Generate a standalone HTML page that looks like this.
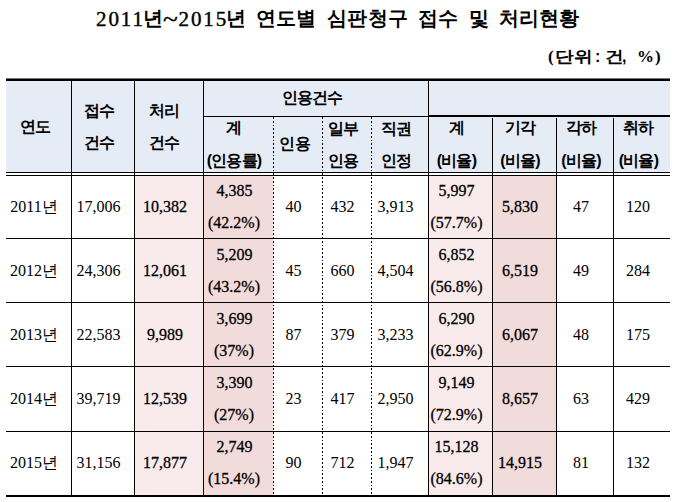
<!DOCTYPE html>
<html><head><meta charset="utf-8"><style>
html,body{margin:0;padding:0;background:#fff;width:678px;height:502px;overflow:hidden}
body{position:relative}
div{position:absolute}
.t{width:300px;height:30px;line-height:30px;text-align:center;white-space:nowrap;color:#000}
.h{font-family:"Liberation Sans",sans-serif;font-size:16px;font-weight:bold;letter-spacing:-0.8px}
.d{font-family:"Liberation Serif",serif;font-size:16px;font-weight:300}
.b{font-weight:normal;-webkit-text-stroke:0.3px #000}
.tk{font-family:"Liberation Serif",serif;font-size:19.5px;font-weight:bold;line-height:30px;white-space:nowrap}
.tn{font-weight:normal;-webkit-text-stroke:0.4px #000;letter-spacing:1.9px;font-size:21px}
.tl{display:inline-block;transform:scaleX(1.3);transform-origin:left}
.uk{font-family:"Liberation Sans",sans-serif;font-size:16px;font-weight:bold;line-height:30px;white-space:nowrap}
.us{font-family:"Liberation Serif",serif;font-size:17px}
.sx{display:inline-block;transform:scaleX(1.17);transform-origin:left}
</style></head><body>
<div style="left:6px;top:81px;width:664px;height:91px;background:#e5ecf6;"></div><div style="left:135px;top:176px;width:68px;height:62px;background:#f9ebeb;"></div><div style="left:204px;top:176px;width:69px;height:62px;background:#f2dbdb;"></div><div style="left:429px;top:176px;width:63px;height:62px;background:#f9ebeb;"></div><div style="left:493px;top:176px;width:63px;height:62px;background:#f2dbdb;"></div><div style="left:135px;top:239px;width:68px;height:63px;background:#f9ebeb;"></div><div style="left:204px;top:239px;width:69px;height:63px;background:#f2dbdb;"></div><div style="left:429px;top:239px;width:63px;height:63px;background:#f9ebeb;"></div><div style="left:493px;top:239px;width:63px;height:63px;background:#f2dbdb;"></div><div style="left:135px;top:303px;width:68px;height:63px;background:#f9ebeb;"></div><div style="left:204px;top:303px;width:69px;height:63px;background:#f2dbdb;"></div><div style="left:429px;top:303px;width:63px;height:63px;background:#f9ebeb;"></div><div style="left:493px;top:303px;width:63px;height:63px;background:#f2dbdb;"></div><div style="left:135px;top:367px;width:68px;height:64px;background:#f9ebeb;"></div><div style="left:204px;top:367px;width:69px;height:64px;background:#f2dbdb;"></div><div style="left:429px;top:367px;width:63px;height:64px;background:#f9ebeb;"></div><div style="left:493px;top:367px;width:63px;height:64px;background:#f2dbdb;"></div><div style="left:135px;top:432px;width:68px;height:63px;background:#f9ebeb;"></div><div style="left:204px;top:432px;width:69px;height:63px;background:#f2dbdb;"></div><div style="left:429px;top:432px;width:63px;height:63px;background:#f9ebeb;"></div><div style="left:493px;top:432px;width:63px;height:63px;background:#f2dbdb;"></div><div style="left:6px;top:78px;width:664px;height:1px;background:#777;"></div><div style="left:6px;top:79px;width:664px;height:2px;background:#000;"></div><div style="left:203px;top:116px;width:225px;height:1px;background:#000;"></div><div style="left:428px;top:115px;width:242px;height:2px;background:#000;"></div><div style="left:6px;top:172px;width:664px;height:1px;background:#000;"></div><div style="left:6px;top:175px;width:664px;height:1px;background:#000;"></div><div style="left:6px;top:238px;width:664px;height:1px;background:#000;"></div><div style="left:6px;top:302px;width:664px;height:1px;background:#000;"></div><div style="left:6px;top:366px;width:664px;height:1px;background:#000;"></div><div style="left:6px;top:431px;width:664px;height:1px;background:#000;"></div><div style="left:6px;top:495px;width:664px;height:2px;background:#000;"></div><div style="left:71px;top:81px;width:1px;height:414px;background:#000;"></div><div style="left:134px;top:81px;width:1px;height:414px;background:#000;"></div><div style="left:203px;top:81px;width:1px;height:414px;background:#000;"></div><div style="left:428px;top:81px;width:1px;height:414px;background:#000;"></div><div style="left:492px;top:118px;width:1px;height:377px;background:#000;"></div><div style="left:556px;top:118px;width:1px;height:377px;background:#000;"></div><div style="left:613px;top:118px;width:1px;height:377px;background:#000;"></div><svg style="position:absolute;left:273px;top:117px" width="1" height="378"><line x1="0.5" y1="0" x2="0.5" y2="378" stroke="#000" stroke-width="1" stroke-dasharray="1.85 1.9" shape-rendering="crispEdges"/></svg><svg style="position:absolute;left:322px;top:117px" width="1" height="378"><line x1="0.5" y1="0" x2="0.5" y2="378" stroke="#000" stroke-width="1" stroke-dasharray="1.85 1.9" shape-rendering="crispEdges"/></svg><svg style="position:absolute;left:371px;top:117px" width="1" height="378"><line x1="0.5" y1="0" x2="0.5" y2="378" stroke="#000" stroke-width="1" stroke-dasharray="1.85 1.9" shape-rendering="crispEdges"/></svg>
<div class="tk" style="left:96px;top:4px"><span class="tn">2011</span></div><div class="tk" style="left:142.5px;top:4px">년</div><div class="tk" style="left:163px;top:4px"><span class="tn tl">~</span></div><div class="tk" style="left:178.5px;top:4px"><span class="tn">2015</span></div><div class="tk" style="left:225.5px;top:4px">년</div><div class="tk" style="left:256px;top:4px">연도별</div><div class="tk" style="left:326.5px;top:4px"><span style="letter-spacing:0.5px">심판청구</span></div><div class="tk" style="left:417.5px;top:4px">접수</div><div class="tk" style="left:468.5px;top:4px">및</div><div class="tk" style="left:498.5px;top:4px">처리현황</div>
<div class="uk" style="left:548px;top:42px"><span class="us">(</span></div><div class="uk" style="left:555px;top:42px"><span class="sx">단위</span></div><div class="uk" style="left:595px;top:42px">:</div><div class="uk" style="left:605px;top:42px"><span class="sx">건</span></div><div class="uk" style="left:622px;top:42px">,</div><div class="uk" style="left:637px;top:42px"><span class="us">%</span></div><div class="uk" style="left:655px;top:42px"><span class="us">)</span></div>
<div class="t h" style="left:-114.5px;top:111.5px">연도</div><div class="t h" style="left:-50.5px;top:95.7px">접수</div><div class="t h" style="left:-50.5px;top:127.80000000000001px">건수</div><div class="t h" style="left:14.5px;top:95.7px">처리</div><div class="t h" style="left:14.5px;top:127.80000000000001px">건수</div><div class="t h" style="left:162px;top:83px">인용건수</div><div class="t h" style="left:84px;top:113px">계</div><div class="t h" style="left:84px;top:145.5px">(인용률)</div><div class="t h" style="left:144.60000000000002px;top:129px">인용</div><div class="t h" style="left:193px;top:114.19999999999999px">일부</div><div class="t h" style="left:193px;top:145.6px">인용</div><div class="t h" style="left:245.8px;top:114.19999999999999px">직권</div><div class="t h" style="left:245.8px;top:145.6px">인정</div><div class="t h" style="left:306.5px;top:113px">계</div><div class="t h" style="left:306.5px;top:145.5px">(비율)</div><div class="t h" style="left:370px;top:113px">기각</div><div class="t h" style="left:370px;top:145.5px">(비율)</div><div class="t h" style="left:431px;top:113px">각하</div><div class="t h" style="left:431px;top:145.5px">(비율)</div><div class="t h" style="left:488.5px;top:113px">취하</div><div class="t h" style="left:488.5px;top:145.5px">(비율)</div><div class="t d" style="left:-116px;top:192px">2011년</div><div class="t d" style="left:-51.5px;top:192px">17,006</div><div class="t d b" style="left:15px;top:192px">10,382</div><div class="t d b" style="left:84.5px;top:176px">4,385</div><div class="t d b" style="left:84px;top:207.5px">(42.2%)</div><div class="t d" style="left:143.5px;top:192px">40</div><div class="t d" style="left:192.5px;top:192px">432</div><div class="t d" style="left:245.5px;top:192px">3,913</div><div class="t d b" style="left:306.5px;top:176px">5,997</div><div class="t d b" style="left:306.5px;top:207.5px">(57.7%)</div><div class="t d b" style="left:370px;top:192px">5,830</div><div class="t d" style="left:431px;top:192px">47</div><div class="t d" style="left:488px;top:192px">120</div><div class="t d" style="left:-116px;top:256px">2012년</div><div class="t d" style="left:-51.5px;top:256px">24,306</div><div class="t d b" style="left:15px;top:256px">12,061</div><div class="t d b" style="left:84.5px;top:240px">5,209</div><div class="t d b" style="left:84px;top:271.5px">(43.2%)</div><div class="t d" style="left:143.5px;top:256px">45</div><div class="t d" style="left:192.5px;top:256px">660</div><div class="t d" style="left:245.5px;top:256px">4,504</div><div class="t d b" style="left:306.5px;top:240px">6,852</div><div class="t d b" style="left:306.5px;top:271.5px">(56.8%)</div><div class="t d b" style="left:370px;top:256px">6,519</div><div class="t d" style="left:431px;top:256px">49</div><div class="t d" style="left:488px;top:256px">284</div><div class="t d" style="left:-116px;top:320px">2013년</div><div class="t d" style="left:-51.5px;top:320px">22,583</div><div class="t d b" style="left:15px;top:320px">9,989</div><div class="t d b" style="left:84.5px;top:304px">3,699</div><div class="t d b" style="left:84px;top:335.5px">(37%)</div><div class="t d" style="left:143.5px;top:320px">87</div><div class="t d" style="left:192.5px;top:320px">379</div><div class="t d" style="left:245.5px;top:320px">3,233</div><div class="t d b" style="left:306.5px;top:304px">6,290</div><div class="t d b" style="left:306.5px;top:335.5px">(62.9%)</div><div class="t d b" style="left:370px;top:320px">6,067</div><div class="t d" style="left:431px;top:320px">48</div><div class="t d" style="left:488px;top:320px">175</div><div class="t d" style="left:-116px;top:384px">2014년</div><div class="t d" style="left:-51.5px;top:384px">39,719</div><div class="t d b" style="left:15px;top:384px">12,539</div><div class="t d b" style="left:84.5px;top:368px">3,390</div><div class="t d b" style="left:84px;top:399.5px">(27%)</div><div class="t d" style="left:143.5px;top:384px">23</div><div class="t d" style="left:192.5px;top:384px">417</div><div class="t d" style="left:245.5px;top:384px">2,950</div><div class="t d b" style="left:306.5px;top:368px">9,149</div><div class="t d b" style="left:306.5px;top:399.5px">(72.9%)</div><div class="t d b" style="left:370px;top:384px">8,657</div><div class="t d" style="left:431px;top:384px">63</div><div class="t d" style="left:488px;top:384px">429</div><div class="t d" style="left:-116px;top:448px">2015년</div><div class="t d" style="left:-51.5px;top:448px">31,156</div><div class="t d b" style="left:15px;top:448px">17,877</div><div class="t d b" style="left:84.5px;top:432px">2,749</div><div class="t d b" style="left:84px;top:463.5px">(15.4%)</div><div class="t d" style="left:143.5px;top:448px">90</div><div class="t d" style="left:192.5px;top:448px">712</div><div class="t d" style="left:245.5px;top:448px">1,947</div><div class="t d b" style="left:306.5px;top:432px">15,128</div><div class="t d b" style="left:306.5px;top:463.5px">(84.6%)</div><div class="t d b" style="left:370px;top:448px">14,915</div><div class="t d" style="left:431px;top:448px">81</div><div class="t d" style="left:488px;top:448px">132</div>
</body></html>
